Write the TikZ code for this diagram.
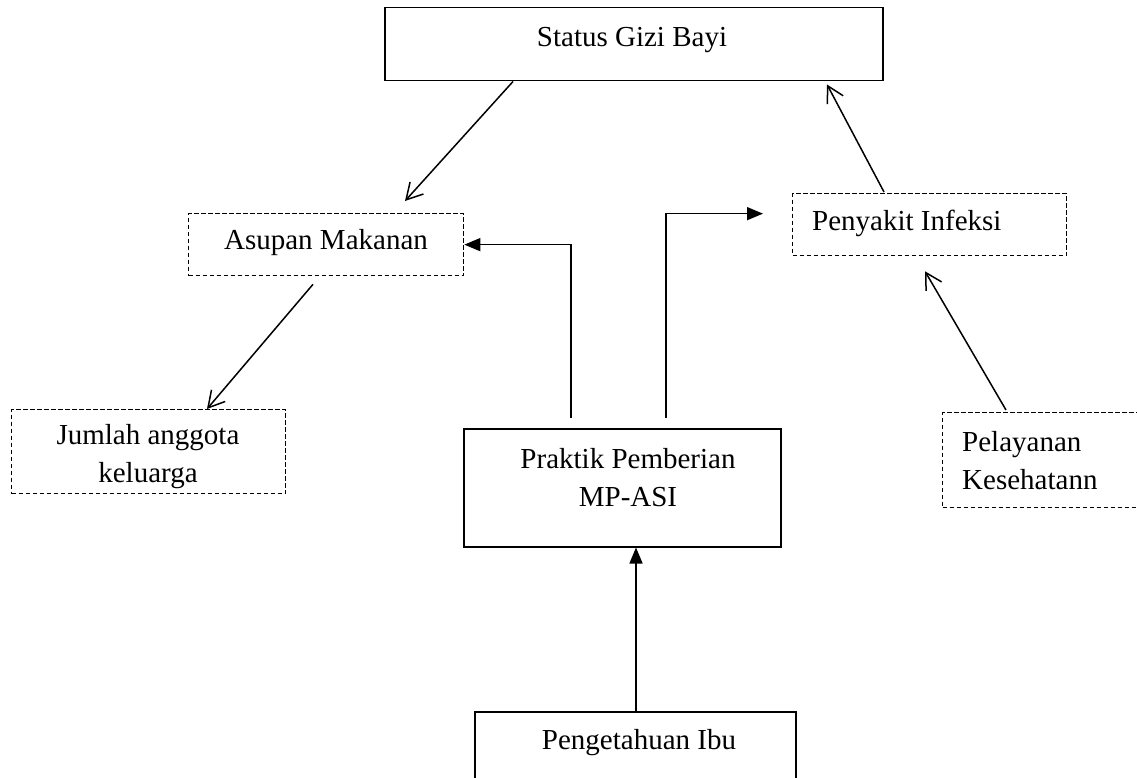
\documentclass[tikz,border=0pt]{standalone}
\usepackage{fontspec}
\setmainfont{Liberation Serif}
\usetikzlibrary{arrows.meta,calc}
\begin{document}
\begin{tikzpicture}[x=1pt,y=-1pt,
  every node/.style={font=\fontsize{29}{38}\selectfont},
  sbox/.style={draw, line width=1.5pt, inner sep=0pt, anchor=north west},
  dbox/.style={draw, line width=1.3pt, dash pattern=on 4.5pt off 2.5pt, inner sep=0pt, anchor=north west},
  txt/.style={inner sep=0pt, align=center},
  opn/.style={line width=1.5pt, -{Straight Barb[length=16pt,width=18pt,line width=1.5pt]}},
  fil/.style={line width=1.5pt, -{Triangle[length=16pt,width=13pt]}}
]
\useasboundingbox (0,0) rectangle (1137,778);
\clip (0,0) rectangle (1137,778);
% boxes
\node[sbox, minimum width=498pt, minimum height=73pt] (status) at (384,7) {};
\node[txt] (tstatus) at (632,40) {Status Gizi Bayi};
\node[dbox, minimum width=275pt, minimum height=62pt] (asupan) at (188,213) {};
\node[txt] (tasupan) at (326,243) {Asupan Makanan};
\node[dbox, minimum width=274pt, minimum height=62pt] (penyakit) at (792,193) {};
\node[txt, anchor=west] (tpenyakit) at (812,223) {Penyakit Infeksi};
\node[dbox, minimum width=274pt, minimum height=84pt] (jumlah) at (11,409) {};
\node[txt] (tjumlah) at (148,457) {Jumlah anggota\\keluarga};
\node[dbox, minimum width=230pt, minimum height=95pt] (pelayanan) at (942,412) {};
\node[txt, anchor=west, align=left] (tpelayanan) at (962,461) {Pelayanan\\Kesehatann};
\node[sbox, minimum width=317pt, minimum height=118pt] (praktik) at (463,428) {};
\node[txt] (tpraktik) at (628,478) {Praktik Pemberian\\MP-ASI};
\node[sbox, minimum width=321pt, minimum height=90pt] (pengetahuan) at (474,711) {};
\node[txt] (tpengetahuan) at (639,743) {Pengetahuan Ibu};
% connectors
\draw[opn] ($(status.south west)+(129,0)$) -- ($(asupan.north west)+(217,-12)$);
\draw[opn] ($(asupan.south west)+(125,8)$) -- ($(jumlah.north west)+(196,0)$);
\draw[opn] ($(penyakit.north west)+(92,-1)$) -- ($(status.south west)+(443,3)$);
\draw[opn] ($(pelayanan.north west)+(64,-2)$) -- ($(penyakit.south west)+(133,15)$);
\draw[fil] ($(praktik.north west)+(108,-10)$) |- (asupan.east);
\coordinate (pend) at ($(penyakit.west)+(-29,-11)$);
\draw[fil] ($(praktik.north west)+(203,-10)$) |- (pend);
\draw[fil] ($(pengetahuan.north west)+(162,0)$) -- ($(praktik.south west)+(173,0)$);
\end{tikzpicture}
\end{document}
